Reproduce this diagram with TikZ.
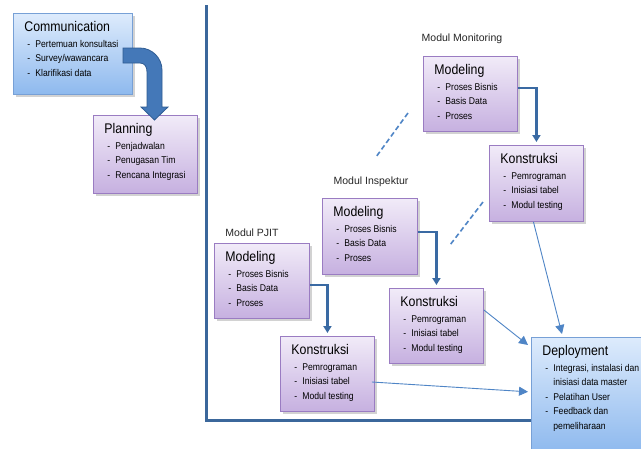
\documentclass[tikz,border=0pt]{standalone}
\usepackage{fontspec}
\setmainfont{Liberation Sans}
\usetikzlibrary{shadows,arrows.meta,calc}
\definecolor{purtop}{HTML}{F1EBF8}
\definecolor{purbot}{HTML}{C6B0E0}
\definecolor{purline}{HTML}{9A7CC2}
\definecolor{bluetop}{HTML}{DDEBFC}
\definecolor{bluebot}{HTML}{8EB9EE}
\definecolor{blueline}{HTML}{77A0D6}
\definecolor{axiscol}{HTML}{3B679B}
\definecolor{darrow}{HTML}{3A6AA3}
\definecolor{larrow}{HTML}{4F85C6}
\definecolor{bigfill}{HTML}{4478B8}
\definecolor{bigline}{HTML}{2F5C93}
\newcommand{\bxttl}[1]{\hbox to\hsize{\hspace*{11pt}\scalebox{0.88}[1]{\fontsize{14}{14}\selectfont #1}\hfil}}
\newcommand{\bxitm}[1]{\hbox to\hsize{\hspace*{14pt}\makebox[8pt][l]{\scalebox{0.88}[1]{\fontsize{9.8}{12}\selectfont -}}\scalebox{0.88}[1]{\fontsize{9.8}{12}\selectfont #1}\hss}}
\newcommand{\bxcont}[1]{\hbox to\hsize{\hspace*{22pt}\scalebox{0.88}[1]{\fontsize{9.8}{12}\selectfont #1}\hss}}
\newcommand{\bxbody}[2]{\parbox[t]{#1}{\baselineskip=14.5pt\lineskiplimit=-30pt\lineskip=0pt #2}}
\tikzset{
  boxbase/.style={anchor=north west, inner sep=0pt, text height=18pt, line width=0.9pt,
    drop shadow={shadow xshift=2.5pt, shadow yshift=-2.5pt, opacity=0.35}},
  purplebox/.style={boxbase, draw=purline, top color=purtop, bottom color=purbot},
  bluebox/.style={boxbase, draw=blueline, top color=bluetop, bottom color=bluebot},
  lbl/.style={font=\fontsize{10.5}{12}\selectfont, text=black!85, inner sep=0pt},
  thickarrow/.style={draw=darrow, line width=2.8pt, -{Triangle[length=7pt,width=8pt]}, shorten >=3pt},
  thinarrow/.style={draw=larrow, line width=0.9pt, -{Triangle[length=9pt,width=9pt]}},
  dashlink/.style={draw=larrow, line width=1.6pt, dash pattern=on 5pt off 3pt}
}
\begin{document}
\begin{tikzpicture}[x=1pt,y=-1pt]
\useasboundingbox (0,0) rectangle (641,448);
\clip (0,0) rectangle (641,448);
\fill[white] (0,0) rectangle (641,448);
% axis
\draw[axiscol, line width=3pt] (206,5) |- (545,420);
% boxes
\node[bluebox, text depth=63pt] (comm) at (13,13) {\bxbody{119pt}{\bxttl{Communication}\vskip1.5pt\bxitm{Pertemuan konsultasi}\bxitm{Survey/wawancara}\bxitm{Klarifikasi data}}};
\node[purplebox, text depth=60pt] (plan) at (93,115) {\bxbody{104pt}{\bxttl{Planning}\vskip1.5pt\bxitm{Penjadwalan}\bxitm{Penugasan Tim}\bxitm{Rencana Integrasi}}};
\node[purplebox, text depth=57pt] (modM) at (423,56) {\bxbody{94pt}{\bxttl{Modeling}\vskip1.5pt\bxitm{Proses Bisnis}\bxitm{Basis Data}\bxitm{Proses}}};
\node[purplebox, text depth=58pt] (konM) at (489,145) {\bxbody{94pt}{\bxttl{Konstruksi}\vskip1.5pt\bxitm{Pemrograman}\bxitm{Inisiasi tabel}\bxitm{Modul testing}}};
\node[purplebox, text depth=58pt] (modI) at (322,198) {\bxbody{95pt}{\bxttl{Modeling}\vskip1.5pt\bxitm{Proses Bisnis}\bxitm{Basis Data}\bxitm{Proses}}};
\node[purplebox, text depth=57pt] (konI) at (389,288) {\bxbody{94pt}{\bxttl{Konstruksi}\vskip1.5pt\bxitm{Pemrograman}\bxitm{Inisiasi tabel}\bxitm{Modul testing}}};
\node[purplebox, text depth=57pt] (modP) at (214,243) {\bxbody{95pt}{\bxttl{Modeling}\vskip1.5pt\bxitm{Proses Bisnis}\bxitm{Basis Data}\bxitm{Proses}}};
\node[purplebox, text depth=57pt] (konP) at (280,336) {\bxbody{94pt}{\bxttl{Konstruksi}\vskip1.5pt\bxitm{Pemrograman}\bxitm{Inisiasi tabel}\bxitm{Modul testing}}};
\node[bluebox, text depth=97pt] (dep) at (531,337) {\bxbody{114pt}{\bxttl{Deployment}\vskip1.5pt\bxitm{Integrasi, instalasi dan}\bxcont{inisiasi data master}\bxitm{Pelatihan User}\bxitm{Feedback dan}\bxcont{pemeliharaan}}};
% labels
\node[lbl] (lblM) at (462,39) {Modul Monitoring};
\node[lbl] (lblI) at (371,182) {Modul Inspektur};
\node[lbl] (lblP) at (252,233) {Modul PJIT};
% big curved arrow
\filldraw[fill=bigfill, draw=bigline, line width=0.8pt]
  (123,48) -- (140,48) .. controls (152,48) and (162,58) .. (162,70) -- (162,107) -- (168,107)
  -- (154.5,120) -- (141,107) -- (147,107) -- (147,72) .. controls (147,67) and (145,63) .. (140,63)
  -- (123,63) -- cycle;
% thick arrows
\draw[thickarrow] (modM.east |- 0,88) -| (konM.north);
\draw[thickarrow] (modI.east |- 0,232) -| (konI.north);
\draw[thickarrow] (modP.east |- 0,285) -| (konP.north);
% thin arrows
\draw[thinarrow] (konI.east |- 0,310) -- ([xshift=-3pt,yshift=-8pt]dep.north west);
\draw[thinarrow, shorten >=3pt] ([xshift=-3pt]konP.east |- 0,382) -- (dep.west |- 0,392);
\draw[thinarrow] ([xshift=-3pt]konM.south) -- ([xshift=31pt,yshift=3pt]dep.north west);
% dashed links
\draw[dashlink] (408,113) -- (376,157);
\draw[dashlink] (483,202) -- (450,245);
\end{tikzpicture}
\end{document}
